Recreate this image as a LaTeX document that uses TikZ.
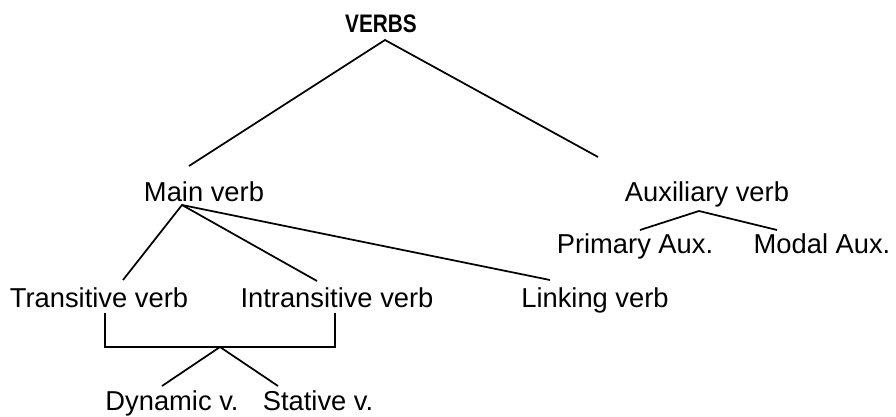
\documentclass[tikz,border=0pt]{standalone}
\usepackage{fontspec}
\setmainfont{Liberation Sans}
\begin{document}
\begin{tikzpicture}[x=0.75pt,y=-0.75pt,
  lbl/.style={inner sep=0pt,anchor=base,font=\fontsize{20.5pt}{24pt}\selectfont},
  ttl/.style={inner sep=0pt,anchor=base,font=\fontsize{19pt}{22pt}\selectfont\bfseries},
  conn/.style={line width=1.3pt,line join=miter}]
\useasboundingbox (0,0) rectangle (896,417);
% nodes
\node[ttl] (verbs) at (381,33) {\scalebox{0.82}[1]{VERBS}};
\node[lbl] (main) at (204,202) {Main verb};
\node[lbl] (aux) at (707,202) {Auxiliary verb};
\node[lbl] (prim) at (635,253) {Primary Aux.};
\node[lbl] (modal) at (822,253) {Modal Aux.};
\node[lbl] (trans) at (99,307) {Transitive verb};
\node[lbl] (intrans) at (337,307) {Intransitive verb};
\node[lbl] (link) at (595,307) {Linking verb};
\node[lbl] (dyn) at (172,410) {Dynamic v.};
\node[lbl] (stat) at (318,410) {Stative v.};
% connector points
\coordinate (vtop) at (385,40);
\coordinate (mvin) at (189,166);
\coordinate (auxin) at (598,157);
\coordinate (mvout) at (182,205);
\coordinate (trin) at (123,280);
\coordinate (intrin) at (317,281);
\coordinate (linkin) at (550,280);
\coordinate (auxout) at (699,211);
\coordinate (primin) at (640,230);
\coordinate (modin) at (777,230);
\coordinate (brL) at (105,313);
\coordinate (brR) at (335,313);
\coordinate (brLb) at (105,347);
\coordinate (brRb) at (335,347);
\coordinate (brmid) at (220,347);
\coordinate (dynin) at (162,386);
\coordinate (statin) at (278,386);
% connectors
\draw[conn] (mvin) -- (vtop) -- (auxin);
\draw[conn] (trin) -- (mvout) -- (intrin);
\draw[conn] (mvout) -- (linkin);
\draw[conn] (primin) -- (auxout) -- (modin);
\draw[conn] (brL) -- (brLb) -- (brRb) -- (brR);
\draw[conn] (dynin) -- (brmid) -- (statin);
\end{tikzpicture}
\end{document}
